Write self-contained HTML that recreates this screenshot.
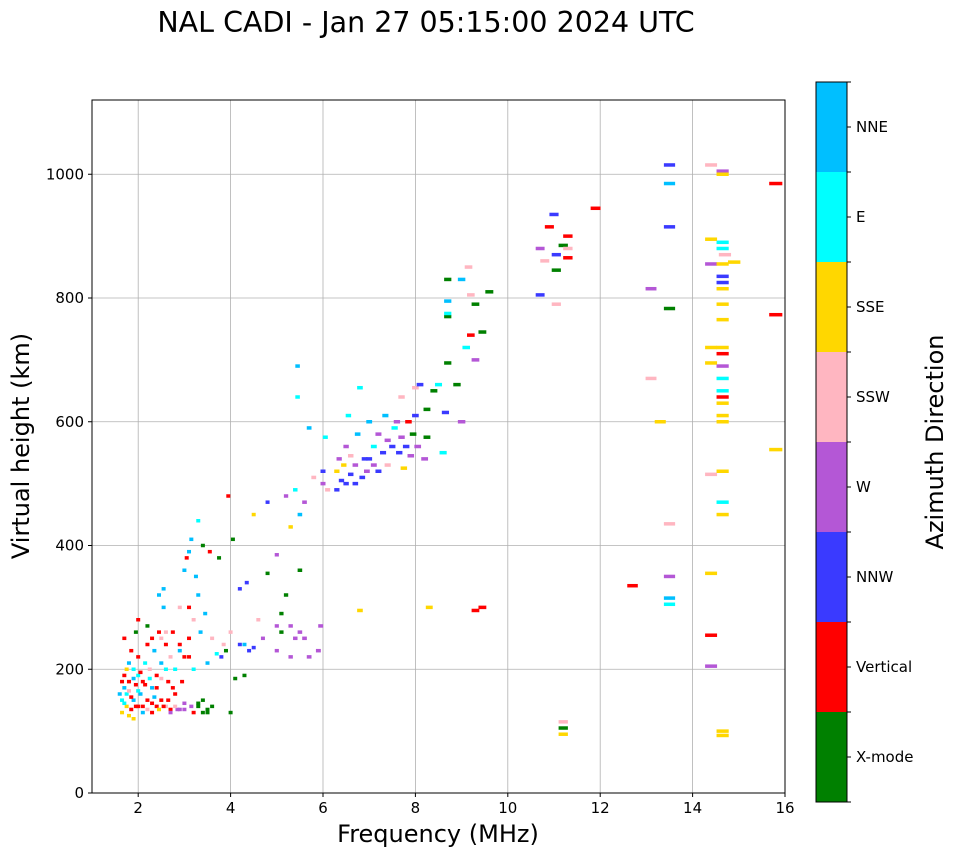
<!DOCTYPE html>
<html><head><meta charset="utf-8"><style>
html,body{margin:0;padding:0;background:#fff;}
svg text{font-family:"DejaVu Sans","Liberation Sans",sans-serif;fill:#000;}
</style></head><body>
<svg id="chart" width="958" height="857" xmlns="http://www.w3.org/2000/svg">
<text x="426" y="32" font-size="28.5" text-anchor="middle">NAL CADI - Jan 27 05:15:00 2024 UTC</text>
<g id="grid"></g>
<g id="marks"></g>
<rect x="92" y="100" width="693" height="693" fill="none" stroke="#000" stroke-width="1"/>
<g id="axes"></g>
<text x="438" y="842" font-size="24" text-anchor="middle">Frequency (MHz)</text>
<text transform="translate(29,446) rotate(-90)" font-size="24" text-anchor="middle">Virtual height (km)</text>
<g id="cbar"></g>
<text transform="translate(943,442) rotate(-90)" font-size="24" text-anchor="middle">Azimuth Direction</text>
</svg>
<script>
const categories = ["X-mode","Vertical","NNW","W","SSW","SSE","E","NNE"];
const catColors = ["#008000","#ff0000","#3a3aff","#b457d6","#ffb6c1","#ffd700","#00ffff","#00bfff"];
const xTicks = [2,4,6,8,10,12,14,16];
const yTicks = [0,200,400,600,800,1000];
const freqs = [1.65,1.65,1.7,1.7,1.75,1.75,1.8,1.8,1.85,1.85,1.9,1.9,1.95,1.95,2.0,2.0,2.0,1.7,1.8,1.9,
2.05,2.1,2.1,2.15,2.2,2.2,2.25,2.3,2.3,2.35,2.4,2.4,2.45,2.45,2.5,2.5,2.55,2.55,2.6,2.6,2.65,2.7,2.7,2.75,2.8,2.8,2.85,2.9,2.9,2.95,3.0,3.0,3.0,3.05,3.1,3.1,3.15,3.15,3.2,3.2,3.25,3.3,3.3,3.35,3.4,3.4,3.45,3.5,3.5,3.55,3.6,3.6,3.7,3.75,3.8,3.85,3.9,4.0,4.0,4.05,3.95,
1.6,1.65,1.7,1.75,1.8,1.85,1.9,1.95,2.0,2.05,2.1,2.15,2.2,2.25,2.3,2.35,2.4,2.45,2.5,2.55,2.6,2.65,2.7,2.75,2.8,2.9,3.0,3.1,3.2,3.3,3.4,3.5,2.3,2.6,2.9,3.1,3.3,2.0,2.2,2.5,
4.1,4.2,4.3,4.3,4.4,4.5,4.2,4.35,4.5,4.6,4.7,4.8,4.8,5.0,5.0,5.0,5.1,5.1,5.2,5.2,5.3,5.3,5.3,5.4,5.4,5.45,5.45,5.5,5.5,5.5,5.6,5.6,5.7,5.7,5.8,5.9,5.95,6.0,6.0,6.05,6.1,
6.3,6.3,6.35,6.4,6.45,6.5,6.5,6.55,6.6,6.6,6.7,6.7,6.75,6.8,6.8,6.85,6.9,6.95,7.0,7.0,7.1,7.1,7.2,7.2,7.3,7.35,7.4,7.4,7.5,7.55,7.6,7.65,7.7,7.7,7.75,7.8,7.85,7.9,7.95,8.0,8.0,8.05,8.1,8.2,8.25,8.25,8.3,8.4,8.5,8.6,8.65,8.7,8.7,8.7,8.7,8.7,8.9,9.0,9.0,9.1,9.15,9.2,9.2,9.3,9.3,9.3,9.45,9.45,9.6,
10.7,10.7,10.8,10.9,11.0,11.05,11.05,11.05,11.2,11.2,11.2,11.2,11.3,11.3,11.3,11.9,12.7,13.1,13.1,13.3,13.5,13.5,13.5,13.5,13.5,13.5,13.5,13.5,14.4,14.4,14.4,14.4,14.4,14.4,14.4,14.4,14.4,14.65,14.65,14.65,14.65,14.7,14.65,14.9,14.65,14.65,14.65,14.65,14.65,14.65,14.65,14.65,14.65,14.65,14.65,14.65,14.65,14.65,14.65,14.65,14.65,14.65,14.65,15.8,15.8,15.8];
const heights = [130,150,170,190,140,160,180,210,135,230,150,200,175,260,140,190,220,250,125,120,
160,180,140,210,150,240,200,130,170,230,140,190,320,260,210,150,300,330,240,140,180,135,220,260,160,200,135,240,300,180,135,220,360,380,390,250,140,410,200,280,350,140,440,260,130,400,290,135,210,390,140,250,225,380,220,240,230,130,260,410,480,
160,180,145,200,165,155,185,140,165,195,130,175,135,185,145,155,170,135,185,140,200,150,130,170,140,135,145,220,130,145,150,130,250,260,230,300,320,280,270,250,
185,240,240,190,230,235,330,340,450,280,250,355,470,230,270,385,290,260,320,480,220,270,430,250,490,640,690,360,450,260,470,250,220,590,510,230,270,500,520,575,490,
490,520,540,505,530,560,500,610,545,515,500,530,580,655,295,510,540,520,600,540,530,560,580,520,550,610,570,530,560,590,600,550,575,640,525,560,600,545,580,610,655,560,660,540,575,620,300,650,660,550,615,695,770,830,775,795,660,600,830,720,850,740,805,700,790,295,300,745,810,
880,805,860,915,935,870,845,790,885,115,105,95,900,880,865,945,335,815,670,600,1015,985,915,783,435,350,315,305,1015,895,855,720,695,515,355,255,205,1005,1000,890,880,870,855,858,835,825,815,790,765,720,710,690,670,650,640,630,610,600,520,470,450,100,93,985,773,555];
const dirs = [5,6,7,1,5,6,1,7,1,1,7,6,1,0,1,6,1,1,5,5,
7,1,1,6,1,1,4,1,7,7,1,1,7,1,7,1,7,7,1,4,1,1,4,1,1,6,3,1,4,1,3,1,7,1,7,1,3,7,6,4,7,0,6,7,0,0,7,0,7,1,0,4,6,0,2,4,0,0,4,0,1,
7,1,6,5,4,1,7,1,6,1,7,1,4,6,1,7,1,5,4,1,6,1,3,1,4,3,3,1,1,0,0,0,1,4,7,1,7,1,0,4,
0,2,7,0,2,2,2,2,5,4,3,0,2,3,3,3,0,0,0,3,3,3,5,3,6,6,7,0,7,3,3,3,3,7,4,3,3,3,2,6,4,
2,5,3,2,5,3,2,6,4,2,2,3,7,6,5,2,2,3,7,2,3,6,3,2,2,7,3,4,2,6,3,2,3,4,5,2,1,3,0,2,4,3,2,3,0,0,5,0,6,6,2,0,0,0,6,7,0,3,7,6,4,1,4,3,0,1,1,0,0,
3,2,4,1,2,2,0,4,0,4,0,5,1,4,1,1,1,3,4,5,2,7,2,0,4,3,7,6,4,5,3,5,5,4,5,1,3,3,5,6,6,4,5,5,2,2,5,5,5,5,1,3,6,6,1,5,5,5,5,6,5,5,5,1,1,5];

const NS="http://www.w3.org/2000/svg";
const X0=92,X1=785,Y0=793,Y1=100,FMIN=1,FMAX=16,HMIN=0,HMAX=1120;
function xs(f){return X0+(f-FMIN)/(FMAX-FMIN)*(X1-X0);}
function ys(h){return Y0-(h-HMIN)/(HMAX-HMIN)*(Y0-Y1);}
function mk(t,a,p){const e=document.createElementNS(NS,t);for(const k in a)e.setAttribute(k,a[k]);p.appendChild(e);return e;}
const grid=document.getElementById('grid'),axes=document.getElementById('axes'),marks=document.getElementById('marks'),cbar=document.getElementById('cbar');
xTicks.forEach(v=>{const x=xs(v);
 const g=mk('line',{x1:x,x2:x,y1:Y1,y2:Y0,stroke:'#b0b0b0','stroke-width':0.8},grid);
 
 
 mk('line',{x1:x,x2:x,y1:Y0,y2:Y0+4,stroke:'#000'},axes);
 const t=mk('text',{x:x,y:Y0+20,'font-size':15,'text-anchor':'middle'},axes);t.textContent=v;
 
 });
yTicks.forEach(v=>{const y=ys(v);
 const g=mk('line',{x1:X0,x2:X1,y1:y,y2:y,stroke:'#b0b0b0','stroke-width':0.8},grid);
 
 
 mk('line',{x1:X0-4,x2:X0,y1:y,y2:y,stroke:'#000'},axes);
 const t=mk('text',{x:X0-8,y:y+5,'font-size':15,'text-anchor':'end'},axes);t.textContent=v;
 
 });
for(let i=0;i<freqs.length;i++){
 const f=freqs[i],h=heights[i],w=Math.max(4,0.018*f*(X1-X0)/(FMAX-FMIN));
 const r=mk('rect',{x:xs(f)-w/2,y:ys(h)-1.75,width:w,height:3.5,fill:catColors[dirs[i]]},marks);
 
 
}
const CX=816,CW=31,CT=82,CB=802,bh=(CB-CT)/categories.length;
categories.forEach((c,i)=>{const y=CB-(i+1)*bh;
 const r=mk('rect',{x:CX,y:y,width:CW,height:bh,fill:catColors[i]},cbar);
 
 
 mk('line',{x1:CX+CW,x2:CX+CW+4,y1:y+bh/2,y2:y+bh/2,stroke:'#000'},cbar);
 const t=mk('text',{x:CX+CW+9,y:y+bh/2+5,'font-size':15},cbar);t.textContent=c;
 
 });
for(let i=0;i<=categories.length;i++){const y=CB-i*bh;mk('line',{x1:CX+CW,x2:CX+CW+4,y1:y,y2:y,stroke:'#000'},cbar);}
mk('rect',{x:CX,y:CT,width:CW,height:CB-CT,fill:'none',stroke:'#000','stroke-width':1},cbar);
</script>
</body></html>
